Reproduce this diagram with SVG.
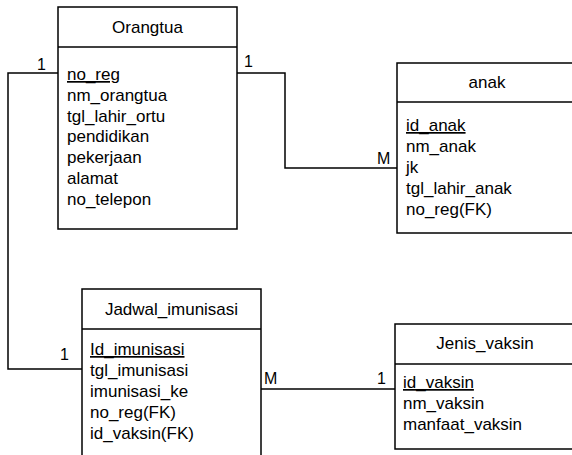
<svg xmlns="http://www.w3.org/2000/svg" width="572" height="455" viewBox="0 0 572 455">
<style>
.box{fill:#fff;stroke:#000;stroke-width:1.5}
.ln{fill:none;stroke:#000;stroke-width:1.5}
text{font-family:"Liberation Sans",Arial,sans-serif;fill:#000}
.t{font-size:17px;text-anchor:middle}
.a{font-size:17px}
.c{font-size:16px}
.pk{text-decoration:underline}
</style>
<rect width="572" height="455" fill="#fff"/>
<g id="connectors">
<polyline class="ln" points="58,73 8,73 8,369 82,369"/>
<polyline class="ln" points="237,73 285,73 285,168 397,168"/>
<line class="ln" x1="261" y1="389" x2="395" y2="389"/>
<text class="c" x="46" y="70" text-anchor="end">1</text>
<text class="c" x="69" y="360" text-anchor="end">1</text>
<text class="c" x="244" y="67">1</text>
<text class="c" x="377" y="164">M</text>
<text class="c" x="264" y="384">M</text>
<text class="c" x="386" y="384" text-anchor="end">1</text>
</g>
<g id="orangtua">
<rect class="box" x="58" y="7" width="179" height="222"/>
<line class="ln" x1="58" y1="47" x2="237" y2="47"/>
<text class="t" x="147.5" y="33">Orangtua</text>
<text class="a pk" x="67" y="80">no_reg</text>
<text class="a" x="67" y="100.8">nm_orangtua</text>
<text class="a" x="67" y="121.6">tgl_lahir_ortu</text>
<text class="a" x="67" y="142.4">pendidikan</text>
<text class="a" x="67" y="163.2">pekerjaan</text>
<text class="a" x="67" y="184">alamat</text>
<text class="a" x="67" y="204.8">no_telepon</text>
</g>
<g id="anak">
<rect class="box" x="397" y="63" width="180" height="170"/>
<line class="ln" x1="397" y1="102" x2="577" y2="102"/>
<text class="t" x="487" y="88">anak</text>
<text class="a pk" x="406" y="131">id_anak</text>
<text class="a" x="406" y="152">nm_anak</text>
<text class="a" x="406" y="173">jk</text>
<text class="a" x="406" y="194">tgl_lahir_anak</text>
<text class="a" x="406" y="215">no_reg(FK)</text>
</g>
<g id="jadwal_imunisasi">
<rect class="box" x="82" y="289" width="179" height="172"/>
<line class="ln" x1="82" y1="329" x2="261" y2="329"/>
<text class="t" x="171.5" y="315">Jadwal_imunisasi</text>
<text class="a pk" x="90" y="355">Id_imunisasi</text>
<text class="a" x="90" y="376">tgl_imunisasi</text>
<text class="a" x="90" y="397">imunisasi_ke</text>
<text class="a" x="90" y="418">no_reg(FK)</text>
<text class="a" x="90" y="439">id_vaksin(FK)</text>
</g>
<g id="jenis_vaksin">
<rect class="box" x="395" y="324" width="180" height="125"/>
<line class="ln" x1="395" y1="364" x2="575" y2="364"/>
<text class="t" x="485" y="349">Jenis_vaksin</text>
<text class="a pk" x="403" y="388">id_vaksin</text>
<text class="a" x="403" y="409">nm_vaksin</text>
<text class="a" x="403" y="430">manfaat_vaksin</text>
</g>
</svg>
